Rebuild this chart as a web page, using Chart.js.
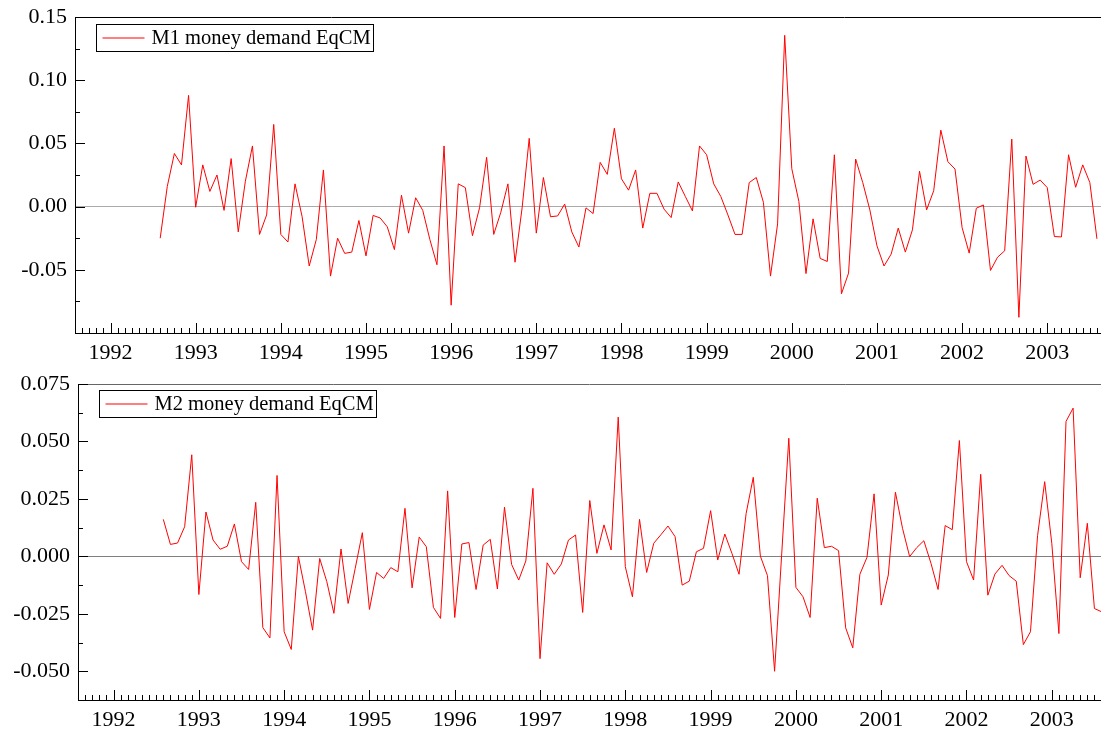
<!DOCTYPE html>
<html lang="en">
<head>
    <meta charset="UTF-8" />
    <title>Money demand EqCM</title>
    <script src="https://cdn.jsdelivr.net/npm/chart.js"></script>
    <style>
        body { margin: 0; background: #fff; }
        canvas { display: block; }
    </style>
</head>
<body>
<canvas id="m1Chart" width="1101" height="368"></canvas>
<canvas id="m2Chart" width="1101" height="368"></canvas>

<script>
    // monthly observations, first one is 1992(8)
    const startYear = 1992;
    const startMonth = 8;
    const yearTicks = [1992, 1993, 1994, 1995, 1996, 1997, 1998, 1999, 2000, 2001, 2002, 2003];

    const m1Label = "M1 money demand EqCM";
    const m1Ticks = [-0.05, 0.00, 0.05, 0.10, 0.15];
    const m1Values = [
        -0.025, 0.016, 0.042, 0.033, 0.088,
        -0.0005, 0.033, 0.012, 0.025, -0.003, 0.038, -0.020, 0.020, 0.048, -0.022, -0.0066, 0.065,
        -0.022, -0.028, 0.018, -0.008, -0.047, -0.026, 0.029, -0.055, -0.025, -0.037, -0.036, -0.011,
        -0.039, -0.007, -0.009, -0.016, -0.034, 0.009, -0.021, 0.007, -0.003, -0.026, -0.046, 0.048,
        -0.078, 0.018, 0.015, -0.023, -0.001, 0.039, -0.022, -0.0045, 0.018, -0.044, -0.001, 0.054,
        -0.021, 0.023, -0.008, -0.0074, 0.002, -0.020, -0.032, -0.001, -0.0055, 0.035, 0.0255, 0.062,
        0.022, 0.013, 0.029, -0.017, 0.0105, 0.0105, -0.002, -0.0087, 0.0195, 0.008, -0.0034, 0.048,
        0.041, 0.018, 0.008, -0.0066, -0.022, -0.022, 0.019, 0.023, 0.0034, -0.055, -0.0137, 0.1355,
        0.030, 0.004, -0.053, -0.0097, -0.041, -0.0434, 0.041, -0.069, -0.0526, 0.0376, 0.019, -0.0026,
        -0.031, -0.047, -0.0376, -0.017, -0.036, -0.0184, 0.028, -0.0026, 0.0126, 0.0605, 0.0355, 0.0297,
        -0.0166, -0.0368, -0.0013, 0.0013, -0.0505, -0.040, -0.035, 0.0534, -0.0876, 0.040, 0.0176, 0.021,
        0.015, -0.0237, -0.024, 0.041, 0.0153, 0.033, 0.019, -0.0255
    ];

    const m2Label = "M2 money demand EqCM";
    const m2Ticks = [-0.050, -0.025, 0.000, 0.025, 0.050, 0.075];
    const m2Values = [
        0.0161, 0.0052, 0.0058, 0.0129, 0.0442,
        -0.0166, 0.0193, 0.0071, 0.0031, 0.0044, 0.0141, -0.0023, -0.0057, 0.0235, -0.031, -0.0355, 0.0352,
        -0.0328, -0.0405, 0.000, -0.0154, -0.0321, -0.0009, -0.011, -0.0248, 0.0032, -0.0205, -0.0052, 0.0103,
        -0.0231, -0.007, -0.0096, -0.0049, -0.0067, 0.0209, -0.0137, 0.0084, 0.0042, -0.0222, -0.027, 0.0285,
        -0.0266, 0.0054, 0.006, -0.0144, 0.0049, 0.0074, -0.0142, 0.0214, -0.0035, -0.0103, -0.002, 0.0296,
        -0.0445, -0.0028, -0.0078, -0.0033, 0.0071, 0.0093, -0.0244, 0.0243, 0.0013, 0.0137, 0.0028, 0.0606,
        -0.0045, -0.0176, 0.0161, -0.007, 0.0057, 0.0094, 0.0132, 0.0086, -0.0125, -0.0108, 0.002, 0.0035,
        0.0199, -0.0016, 0.0097, 0.0013, -0.0078, 0.0187, 0.0344, 0.0001, -0.0084, -0.050, 0.001, 0.0514,
        -0.0135, -0.0176, -0.0266, 0.0253, 0.0038, 0.0044, 0.0025, -0.0311, -0.0398, -0.0078, -0.0004, 0.0272,
        -0.0212, -0.0081, 0.0279, 0.0122, -0.0001, 0.0038, 0.0068, -0.003, -0.0144, 0.0134, 0.0116, 0.0504,
        -0.0023, -0.0103, 0.0357, -0.0169, -0.0077, -0.0039, -0.0084, -0.0108, -0.0384, -0.0328, 0.009, 0.0325,
        0.0057, -0.0336, 0.0587, 0.0645, -0.0093, 0.0144, -0.0227, -0.0241
    ];

    const FONT = "'Liberation Serif', 'Times New Roman', serif";

    function toPoints(values) {
        return values.map((v, i) => ({ x: startYear + (startMonth - 1 + i) / 12, y: v }));
    }

    // inward tick marks, top frame line and the boxed legend
    const panelDecor = {
        id: "panelDecor",
        afterDraw(chart, args, opts) {
            const ctx = chart.ctx;
            const area = chart.chartArea;
            const xs = chart.scales.x;
            const ys = chart.scales.y;
            ctx.save();
            ctx.lineWidth = 1;

            ctx.strokeStyle = opts.frameColor;
            ctx.beginPath();
            ctx.moveTo(area.left, area.top + 0.5);
            ctx.lineTo(area.right, area.top + 0.5);
            ctx.stroke();

            ctx.strokeStyle = "#000";
            ctx.beginPath();
            for (let k = Math.ceil(xs.min * 12); k <= Math.floor(xs.max * 12); k++) {
                const px = Math.round(xs.getPixelForValue(k / 12)) + 0.5;
                const len = k % 12 === 0 ? 10 : 5;
                ctx.moveTo(px, area.bottom);
                ctx.lineTo(px, area.bottom - len);
            }
            const nMinor = Math.round((ys.max - ys.min) / opts.yMinor);
            for (let k = 0; k <= nMinor; k++) {
                const v = ys.min + k * opts.yMinor;
                const py = Math.round(ys.getPixelForValue(v)) + 0.5;
                const len = k % 2 === opts.majorParity ? 10 : 5;
                ctx.moveTo(area.left, py);
                ctx.lineTo(area.left + len, py);
            }
            ctx.stroke();

            // legend box
            const ds = chart.data.datasets[0];
            ctx.font = "20.5px " + FONT;
            const textW = ctx.measureText(ds.label).width;
            const bx = Math.round(area.left + 21) + 0.5;
            const by = Math.round(area.top + opts.legendOffset) + 0.5;
            const bw = Math.round(6 + 42 + 7 + textW + 3);
            const bh = 27;
            ctx.fillStyle = "#fff";
            ctx.fillRect(bx, by, bw, bh);
            ctx.strokeStyle = "#000";
            ctx.strokeRect(bx, by, bw, bh);
            ctx.strokeStyle = ds.borderColor;
            ctx.beginPath();
            ctx.moveTo(bx + 6, by + bh / 2);
            ctx.lineTo(bx + 48, by + bh / 2);
            ctx.stroke();
            ctx.fillStyle = "#000";
            ctx.textBaseline = "middle";
            ctx.textAlign = "left";
            ctx.fillText(ds.label, bx + 55, by + bh / 2 + 1);
            ctx.restore();
        }
    };

    function makePanel(canvasId, label, values, ticks, yMin, yMax, digits, yMinor, majorParity, axisWidth, xMax, zeroColor, frameColor, padTop, padBottom, legendOffset) {
        return new Chart(document.getElementById(canvasId), {
            type: "line",
            data: {
                datasets: [{
                    label: label,
                    data: toPoints(values),
                    borderColor: "#ff0000",
                    borderWidth: 1,
                    pointRadius: 0,
                    tension: 0
                }]
            },
            options: {
                responsive: false,
                animation: false,
                layout: { padding: { top: padTop, right: 0, bottom: padBottom, left: 0 } },
                plugins: {
                    legend: { display: false },
                    tooltip: { enabled: false },
                    panelDecor: { yMinor: yMinor, majorParity: majorParity, frameColor: frameColor, legendOffset: legendOffset }
                },
                scales: {
                    x: {
                        type: "linear",
                        min: 1991.583,
                        max: xMax,
                        afterBuildTicks: scale => { scale.ticks = yearTicks.map(v => ({ value: v })); },
                        afterFit: scale => {
                            scale.height = 33;
                            scale.paddingLeft = 0;
                            scale.paddingRight = 0;
                        },
                        ticks: {
                            autoSkip: false,
                            maxRotation: 0,
                            padding: 7,
                            color: "#000",
                            font: { family: FONT, size: 22 },
                            callback: v => String(v)
                        },
                        grid: { display: false, drawTicks: false },
                        border: { display: true, color: "#000", width: 1 }
                    },
                    y: {
                        min: yMin,
                        max: yMax,
                        afterBuildTicks: scale => { scale.ticks = ticks.map(v => ({ value: v })); },
                        afterFit: scale => {
                            scale.width = axisWidth;
                            scale.paddingTop = 0;
                            scale.paddingBottom = 0;
                        },
                        ticks: {
                            padding: 8,
                            color: "#000",
                            font: { family: FONT, size: 22 },
                            callback: v => v.toFixed(digits)
                        },
                        grid: {
                            drawTicks: false,
                            color: c => (c.tick && Math.abs(c.tick.value) < 1e-9) ? zeroColor : "rgba(0,0,0,0)"
                        },
                        border: { display: true, color: "#000", width: 1 }
                    }
                }
            },
            plugins: [panelDecor]
        });
    }

    makePanel("m1Chart", m1Label, m1Values, m1Ticks, -0.1, 0.15, 2, 0.025, 0, 75, 2003.631, "#aaaaaa", "#000", 17, 2, 7);
    makePanel("m2Chart", m2Label, m2Values, m2Ticks, -0.0625, 0.075, 3, 0.0125, 1, 78, 2003.577, "#808080", "#666", 16, 3, 6);
</script>
</body>
</html>
